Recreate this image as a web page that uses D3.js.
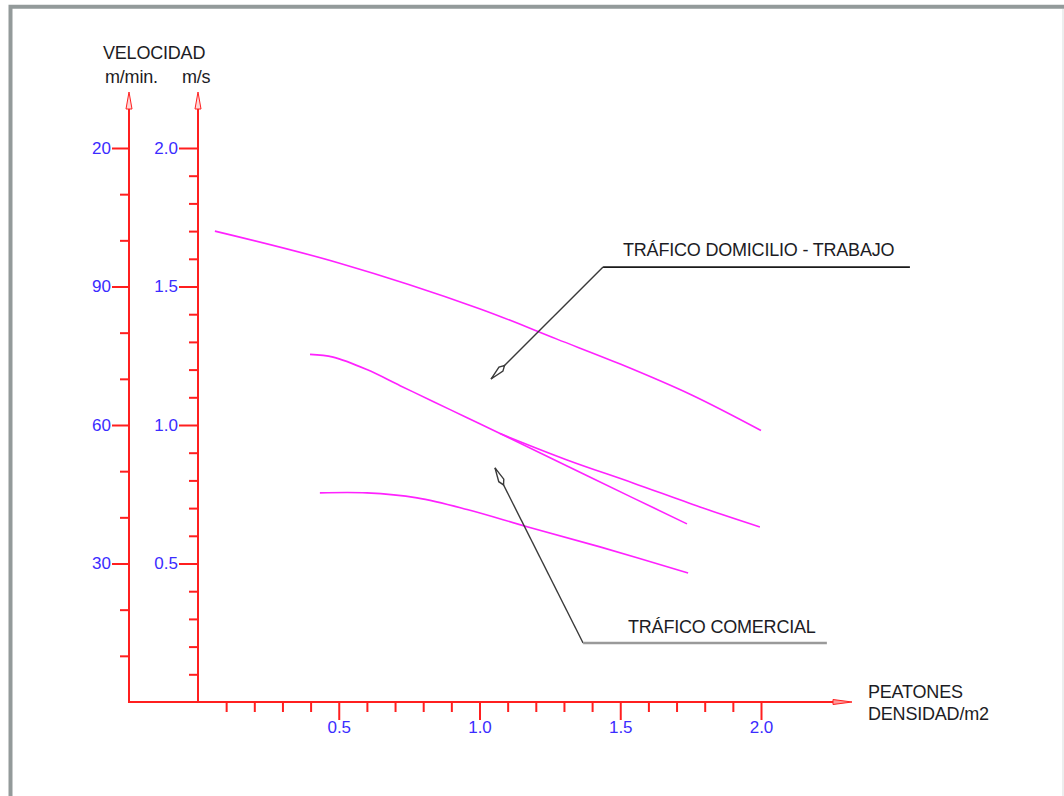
<!DOCTYPE html>
<html>
<head>
<meta charset="utf-8">
<script src="https://cdn.jsdelivr.net/npm/d3@7"></script>
<style>
  html, body { margin: 0; padding: 0; background: #ffffff; }
  svg { display: block; }
  text { font-family: "Liberation Sans", Arial, sans-serif; }
</style>
</head>
<body>
<svg id="chart" width="1064" height="796"></svg>
<script>
// ---- data ----
const xMajorTicks = [0.5, 1.0, 1.5, 2.0];
const xTickLabels = ["0.5", "1.0", "1.5", "2.0"];
const xMinorTicks = [0.1, 0.2, 0.3, 0.4, 0.6, 0.7, 0.8, 0.9, 1.1, 1.2, 1.3, 1.4, 1.6, 1.7, 1.8, 1.9];

const msMajorTicks = [0.5, 1.0, 1.5, 2.0];
const msTickLabels = ["0.5", "1.0", "1.5", "2.0"];
const msMinorTicks = [0.1, 0.2, 0.3, 0.4, 0.6, 0.7, 0.8, 0.9, 1.1, 1.2, 1.3, 1.4, 1.6, 1.7, 1.8, 1.9];

const mminMajorTicks = [30, 60, 90, 120];
const mminTickLabels = ["30", "60", "90", "20"];
const mminMinorTicks = [10, 20, 40, 50, 70, 80, 100, 110];

// density (peatones/m2) vs velocity (m/s)
const serieDomicilio = [[0.06, 1.70], [0.5, 1.585], [1.0, 1.42], [1.275, 1.31], [1.5, 1.22], [1.75, 1.11], [2.0, 0.98]];
const serieComercialAlta = [[0.398, 1.255], [0.48, 1.245], [0.60, 1.200], [0.718, 1.142], [0.835, 1.085], [0.956, 1.026], [1.073, 0.969], [1.311, 0.852], [1.545, 0.737], [1.737, 0.643]];
const serieRamal = [[1.073, 0.969], [1.311, 0.874], [1.545, 0.791], [1.783, 0.704], [1.996, 0.632]];
const serieComercialBaja = [[0.433, 0.755], [0.60, 0.755], [0.778, 0.737], [0.956, 0.695], [1.169, 0.633], [1.428, 0.560], [1.741, 0.466]];

const labelDomicilio = "TRÁFICO DOMICILIO - TRABAJO";
const labelComercial = "TRÁFICO COMERCIAL";
// leader lines in data units: tip, elbow, end
const leaderDomicilio = [[1.041, 1.166], [1.439, 1.570], [2.529, 1.570]];
const leaderComercial = [[1.055, 0.845], [1.368, 0.213], [2.234, 0.213]];

// ---- layout ----
const svg = d3.select("#chart");
const xAxisLeft = 129;   // m/min axis
const xZero = 198;       // m/s axis (x origin)
const yZero = 702;
const yTop = 148;
const arrowTop = 92;

const x = d3.scaleLinear().domain([0, 2]).range([xZero, 761]);
const yMs = d3.scaleLinear().domain([0, 2]).range([yZero, yTop]);
const yMin = d3.scaleLinear().domain([0, 120]).range([yZero, yTop]);

const RED = "#ff1f1f";
const BLUE = "#3b2cff";
const MAGENTA = "#ff22ff";
const TXT = "#1c1c24";
const FS = 18;

// frame
svg.append("path")
  .attr("d", "M10.5,800 L10.5,6.7 L1070,6.7")
  .attr("fill", "none").attr("stroke", "#939a9a").attr("stroke-width", 4);
svg.append("line").attr("x1", 1063).attr("x2", 1063).attr("y1", 9).attr("y2", 796)
  .attr("stroke", "#e6e8e8").attr("stroke-width", 1.5);

function label(tx, ty, s) {
  svg.append("text").attr("x", tx).attr("y", ty).attr("dy", "0.35em")
    .attr("font-size", FS).attr("fill", TXT).attr("letter-spacing", -0.2).text(s);
}
// axis titles
label(103, 53, "VELOCIDAD");
label(105, 77, "m/min.");
label(182, 77, "m/s");
label(868, 692, "PEATONES");
label(868, 714, "DENSIDAD/m2");

function styleAxis(g) {
  g.select(".domain").remove();
  g.selectAll(".tick line").attr("stroke", RED).attr("stroke-width", 2);
  g.selectAll(".tick text").attr("fill", BLUE).attr("font-size", 17)
    .attr("font-family", "'Liberation Sans', Arial, sans-serif");
}

// left axis (m/min)
svg.append("g").attr("transform", `translate(${xAxisLeft},0)`)
  .call(d3.axisLeft(yMin).tickValues(mminMinorTicks).tickSize(9).tickFormat(""))
  .call(styleAxis);
svg.append("g").attr("transform", `translate(${xAxisLeft},0)`)
  .call(d3.axisLeft(yMin).tickValues(mminMajorTicks).tickSize(17).tickPadding(1)
    .tickFormat((d, i) => mminTickLabels[i]))
  .call(styleAxis);

// right axis (m/s)
svg.append("g").attr("transform", `translate(${xZero},0)`)
  .call(d3.axisLeft(yMs).tickValues(msMinorTicks).tickSize(9).tickFormat(""))
  .call(styleAxis);
svg.append("g").attr("transform", `translate(${xZero},0)`)
  .call(d3.axisLeft(yMs).tickValues(msMajorTicks).tickSize(19).tickPadding(1)
    .tickFormat((d, i) => msTickLabels[i]))
  .call(styleAxis);

// x axis
svg.append("g").attr("transform", `translate(0,${yZero})`)
  .call(d3.axisBottom(x).tickValues(xMinorTicks).tickSize(10).tickFormat(""))
  .call(styleAxis);
svg.append("g").attr("transform", `translate(0,${yZero})`)
  .call(d3.axisBottom(x).tickValues(xMajorTicks).tickSize(18).tickPadding(1)
    .tickFormat((d, i) => xTickLabels[i]))
  .call(styleAxis);

// axis lines with arrows
[xAxisLeft, xZero].forEach(ax => {
  svg.append("line").attr("x1", ax).attr("x2", ax).attr("y1", yZero).attr("y2", arrowTop + 6)
    .attr("stroke", RED).attr("stroke-width", 2);
  svg.append("path")
    .attr("d", `M${ax},${arrowTop} L${ax - 3},${arrowTop + 17} L${ax + 3},${arrowTop + 17} Z`)
    .attr("fill", "#ffd6d6").attr("stroke", RED).attr("stroke-width", 1);
});
svg.append("line").attr("x1", xAxisLeft - 1).attr("x2", 836).attr("y1", yZero).attr("y2", yZero)
  .attr("stroke", RED).attr("stroke-width", 2);
svg.append("path")
  .attr("d", `M852,${yZero} L833,${yZero - 2.5} L833,${yZero + 2.5} Z`)
  .attr("fill", "#ff9a9a").attr("stroke", RED).attr("stroke-width", 1);

// curves
const line = d3.line().x(d => x(d[0])).y(d => yMs(d[1])).curve(d3.curveCatmullRom.alpha(0.5));
[serieDomicilio, serieComercialAlta, serieRamal, serieComercialBaja].forEach(s => {
  svg.append("path").attr("d", line(s)).attr("fill", "none")
    .attr("stroke", MAGENTA).attr("stroke-width", 1.6);
});

// leaders
function leader(pts, color, hColor, hWidth) {
  const p = pts.map(d => [x(d[0]), yMs(d[1])]);
  svg.append("line").attr("x1", p[0][0]).attr("y1", p[0][1]).attr("x2", p[1][0]).attr("y2", p[1][1])
    .attr("stroke", color).attr("stroke-width", 1.4);
  svg.append("line").attr("x1", p[1][0]).attr("y1", p[1][1]).attr("x2", p[2][0]).attr("y2", p[2][1])
    .attr("stroke", hColor).attr("stroke-width", hWidth);
  // dart arrowhead at tip
  const dx = p[1][0] - p[0][0], dy = p[1][1] - p[0][1];
  const L = Math.hypot(dx, dy), ux = dx / L, uy = dy / L, nx = -uy, ny = ux;
  const tip = p[0];
  const mid = [tip[0] + ux * 14, tip[1] + uy * 14];
  const back = [tip[0] + ux * 19, tip[1] + uy * 19];
  const w = 2.8;
  svg.append("path")
    .attr("d", `M${tip[0]},${tip[1]} L${mid[0] + nx * w},${mid[1] + ny * w} L${back[0]},${back[1]} L${mid[0] - nx * w},${mid[1] - ny * w} Z`)
    .attr("fill", "#ffffff").attr("stroke", color).attr("stroke-width", 1.4);
}
leader(leaderDomicilio, "#3a3a3a", "#1a1a1a", 1.6);
leader(leaderComercial, "#3a3a3a", "#9a9a9a", 2.4);

label(623, 250, labelDomicilio);
label(628, 627, labelComercial);
</script>
</body>
</html>
